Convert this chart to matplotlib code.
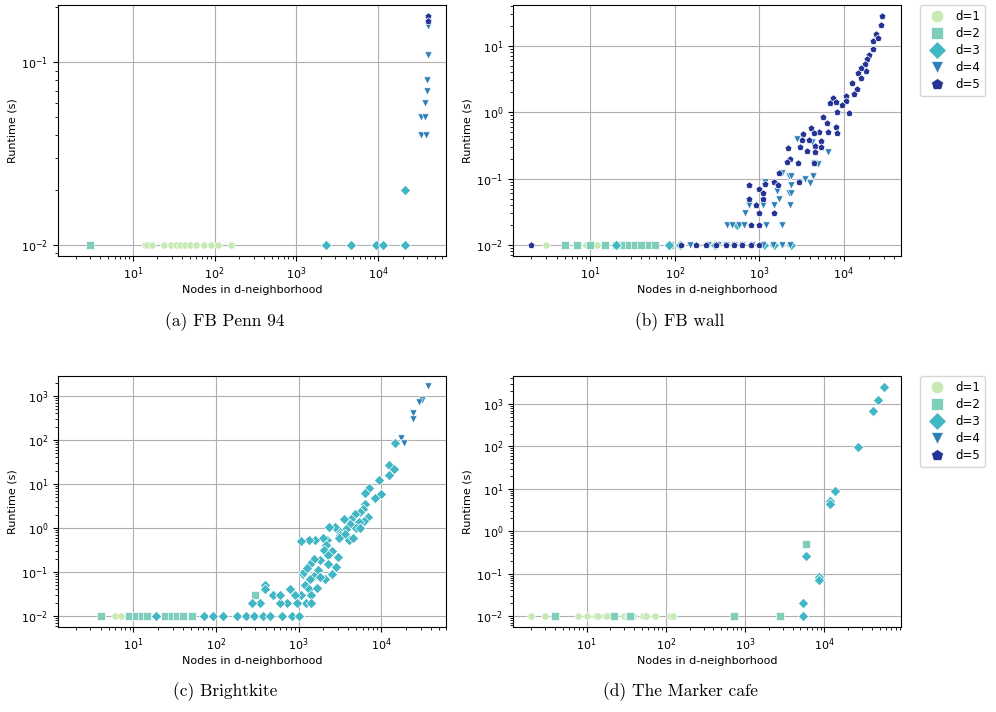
import numpy as np
import matplotlib
matplotlib.use("Agg")
import matplotlib.pyplot as plt
from matplotlib.lines import Line2D

# ---------------- data ----------------
LABELS = ["d=1", "d=2", "d=3", "d=4", "d=5"]
MARKERS = ["o", "s", "D", "v", "p"]
COLORS = ["#c7e9b4", "#7fcdbb", "#41b6c4", "#2c7fb8", "#253494"]
CAPTIONS = ["(a) FB Penn 94", "(b) FB wall", "(c) Brightkite", "(d) The Marker cafe"]

# (a) FB Penn 94
A1_X = [14, 15, 17, 24, 29, 34, 38, 44, 50, 60, 74, 91, 110, 158]
A1_Y = [0.01] * 14
A2_X = [3]
A2_Y = [0.01]
A3_X = [2300, 4600, 9300, 11500, 21600, 21600]
A3_Y = [0.01, 0.01, 0.01, 0.01, 0.01, 0.02]
A4_X = [41100, 39200, 39900, 37000, 33200, 37000, 33400, 38500, 41100]
A4_Y = [0.11, 0.08, 0.07, 0.06, 0.05, 0.05, 0.04, 0.04, 0.158]
A5_X = [41100, 41100]
A5_Y = [0.18, 0.169]

# (b) FB wall
B1_X = [3, 9, 10, 12]
B1_Y = [0.01] * 4
B2_X = [5, 7, 10, 15, 20, 25, 29, 34, 40, 50, 58, 87]
B2_Y = [0.01] * 12
B3_X = [20, 85, 115, 300, 1150, 1500, 2400, 540]
B3_Y = [0.01, 0.01, 0.01, 0.01, 0.01, 0.01, 0.01, 0.02]
B4_X = [150, 245, 325, 405, 510, 630, 830, 1100, 1440, 1860, 2350,
        420, 480, 575, 660, 1200, 1840, 680, 750, 1100, 1500, 2330,
        1730, 2270, 2400, 1630, 2400, 1170, 2980, 1860, 2270, 2400,
        3500, 4290, 4030, 2770, 4490, 5000, 6450, 4170]
B4_Y = [0.01, 0.01, 0.01, 0.01, 0.01, 0.01, 0.01, 0.01, 0.01, 0.01, 0.01,
        0.02, 0.02, 0.02, 0.02, 0.02, 0.02, 0.03, 0.04, 0.04, 0.04, 0.04,
        0.05, 0.06, 0.06, 0.065, 0.08, 0.09, 0.09, 0.12, 0.11, 0.11,
        0.10, 0.11, 0.085, 0.40, 0.17, 0.165, 0.25, 0.35]
B5_X = [28500, 28000, 24400, 22300, 25300, 22100, 20100, 18800, 17900, 18400,
        16100, 14800, 15900, 12600, 14500, 13200, 10700, 10700, 9550, 7480,
        6950, 8180, 11700, 8340, 5640, 6340, 8040, 8340, 6580, 5060,
        4140, 4410, 3270, 3180, 3920, 4570, 5330, 5330, 4570, 3640,
        3060, 2210, 2330, 2110, 2870, 4490, 1730, 1510, 1180, 750,
        750, 1000, 1100, 910, 1000, 1510, 1650, 1000, 810, 1120, 2980,
        2, 120, 180, 235, 310, 405, 510, 630, 790, 1000]
B5_Y = [27.5, 20.7, 15.0, 11.9, 13.0, 8.9, 7.3, 6.3, 5.3, 4.2,
        4.6, 3.9, 3.3, 2.7, 2.2, 1.9, 1.77, 1.49, 1.29, 1.63,
        1.39, 1.40, 0.96, 1.0, 0.83, 0.68, 0.59, 0.48, 0.51, 0.51,
        0.58, 0.48, 0.47, 0.38, 0.38, 0.31, 0.37, 0.30, 0.25, 0.26,
        0.30, 0.285, 0.20, 0.18, 0.17, 0.17, 0.12, 0.09, 0.083, 0.08,
        0.05, 0.07, 0.05, 0.04, 0.03, 0.03, 0.08, 0.02, 0.02, 0.06, 0.09,
        0.01, 0.01, 0.01, 0.01, 0.01, 0.01, 0.01, 0.01, 0.01, 0.01]

# (c) Brightkite
C1_X = [6, 7]
C1_Y = [0.01, 0.01]
C2_X = [4, 8.9, 10.7, 12.6, 14.5, 24, 29, 34, 40, 51, 300]
C2_Y = [0.01] * 10 + [0.03]
C3_X = [19, 71, 93, 123, 180, 228, 291, 367, 454, 630, 830, 1000,
        14750, 12500, 14100, 12500, 9460, 10000, 8450, 7080, 6310, 6400,
        5940, 6920, 5470, 4840, 6110, 5320, 4340, 3500, 4220, 3780,
        2990, 3190, 3670, 4030, 4540, 2780, 2310, 2200, 2000, 1580,
        1350, 1070, 2160, 2040, 2510, 3020, 2860, 2260, 2240, 1800,
        1520, 1380, 1700, 1550, 1380, 2100, 1830, 1120, 1180, 1350,
        1660, 1410, 1070, 1240, 1420, 910, 780, 955, 725, 590,
        490, 600, 390, 390, 345, 270, 1150, 1250, 2500, 3100, 5000, 5600]
C3_Y = [0.01] * 12 + [
        85, 27.5, 21.4, 16.2, 12.0, 5.75, 4.9, 8.1, 6.2, 3.55,
        2.75, 1.78, 2.3, 2.04, 1.41, 1.38, 1.62, 1.62, 1.2, 0.97,
        0.89, 0.68, 0.72, 0.52, 0.58, 1.05, 1.05, 0.52, 0.58, 0.52,
        0.52, 0.51, 0.41, 0.31, 0.30, 0.22, 0.13, 0.24, 0.155, 0.184,
        0.20, 0.148, 0.112, 0.083, 0.071, 0.071, 0.078, 0.089, 0.05, 0.042,
        0.044, 0.03, 0.03, 0.02, 0.02, 0.03, 0.04, 0.02, 0.02, 0.02,
        0.03, 0.03, 0.05, 0.04, 0.02, 0.02, 0.10, 0.12, 0.09, 0.6, 1.0, 1.0]
C4_X = [37000, 31000, 28500, 24000, 24000, 17400, 18800]
C4_Y = [1650, 820, 720, 410, 300, 110, 85]

# (d) The Marker cafe
D1_X = [2, 3, 7.8, 10, 13, 14, 17, 18, 30, 33, 38, 51, 56, 72, 112, 123]
D1_Y = [0.01] * 16
D2_X = [4, 22, 35, 716, 2750, 5900]
D2_Y = [0.01, 0.01, 0.01, 0.01, 0.01, 0.51]
D3_X = [56600, 48200, 41100, 27100, 13500, 11750, 11750, 8700, 8700, 5900, 5370, 5370]
D3_Y = [2500, 1260, 680, 97, 8.9, 5.1, 4.3, 0.083, 0.069, 0.26, 0.02, 0.01]

PANELS = [
    {"series": [(A1_X, A1_Y), (A2_X, A2_Y), (A3_X, A3_Y), (A4_X, A4_Y), (A5_X, A5_Y)],
     "xlim": (10**0.086, 10**4.83), "ylim": (10**-2.0625, 10**-0.686), "legend": False},
    {"series": [(B1_X, B1_Y), (B2_X, B2_Y), (B3_X, B3_Y), (B4_X, B4_Y), (B5_X, B5_Y)],
     "xlim": (10**0.084, 10**4.68), "ylim": (10**-2.166, 10**1.612), "legend": True},
    {"series": [(C1_X, C1_Y), (C2_X, C2_Y), (C3_X, C3_Y), (C4_X, C4_Y), ([], [])],
     "xlim": (10**0.087, 10**4.784), "ylim": (10**-2.25, 10**3.45), "legend": False},
    {"series": [(D1_X, D1_Y), (D2_X, D2_Y), (D3_X, D3_Y), ([], []), ([], [])],
     "xlim": (10**0.07, 10**4.97), "ylim": (10**-2.26, 10**3.66), "legend": True},
]

# ---------------- plot ----------------
W, H = 996, 712
fig = plt.figure(figsize=(W / 100, H / 100), dpi=100)

ax_boxes = [(58, 5), (513, 5), (58, 376), (513, 376)]  # left, top in px
AXW, AXH = 388, 251
cap_pos = [(225, 322), (680, 322), (225, 692), (680, 692)]

for i, (p, (lx, ty)) in enumerate(zip(PANELS, ax_boxes)):
    ax = fig.add_axes([lx / W, 1 - (ty + AXH) / H, AXW / W, AXH / H])
    ax.set_xscale("log")
    ax.set_yscale("log")
    for k, (xs, ys) in enumerate(p["series"]):
        if len(xs):
            ax.scatter(xs, ys, s=28, marker=MARKERS[k], color=COLORS[k],
                       edgecolor="white", linewidth=0.5, zorder=3)
    ax.set_xlim(*p["xlim"])
    ax.set_ylim(*p["ylim"])
    ax.grid(True, which="major", color="#b0b0b0", linewidth=0.8)
    ax.set_axisbelow(True)
    ax.tick_params(labelsize=8)
    ax.set_xlabel("Nodes in d-neighborhood", fontsize=8, labelpad=2)
    ax.set_ylabel("Runtime (s)", fontsize=8, labelpad=3)
    if p["legend"]:
        handles = [Line2D([], [], linestyle="none", marker=MARKERS[k], color=COLORS[k],
                          markeredgecolor="white", markeredgewidth=0.5, markersize=9)
                   for k in range(5)]
        ax.legend(handles, LABELS, loc="upper left", bbox_to_anchor=(1.05, 1.0),
                  fontsize=8.5, borderaxespad=0, handletextpad=0.6, labelspacing=0.35)
    cx, cy = cap_pos[i]
    fig.text(cx / W, 1 - cy / H, CAPTIONS[i], ha="center", va="center",
             family="cmr10", fontsize=12.5)

fig.savefig("out.png", dpi=100)
